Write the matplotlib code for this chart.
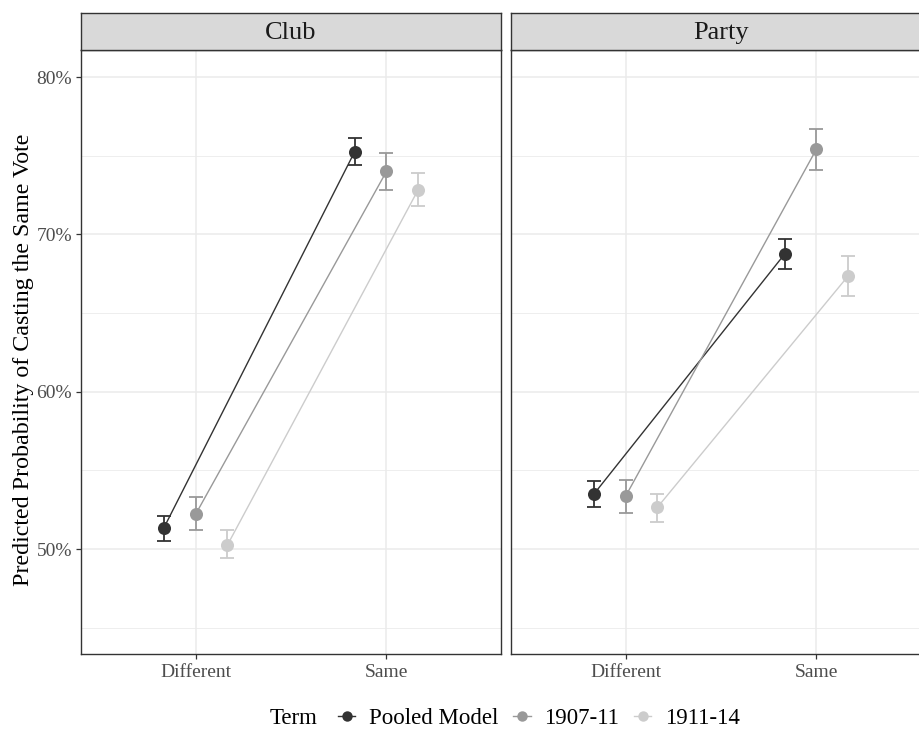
import matplotlib
matplotlib.use("Agg")
import matplotlib.pyplot as plt
from matplotlib.lines import Line2D
from matplotlib.ticker import FuncFormatter, MultipleLocator

plt.rcParams['font.family'] = ['Liberation Serif', 'DejaVu Serif']

panels = ["Club", "Party"]
categories = ["Different", "Same"]
terms = ["Pooled Model", "1907-11", "1911-14"]
colors = ["#333333", "#999999", "#cccccc"]

# estimates (%) per panel -> per term -> [Different, Same]
club_est = [[51.33, 75.25], [52.2, 74.0], [50.25, 72.85]]
club_lo = [[50.5, 74.4], [51.2, 72.8], [49.4, 71.8]]
club_hi = [[52.1, 76.1], [53.3, 75.2], [51.2, 73.9]]

party_est = [[53.48, 68.75], [53.35, 75.42], [52.65, 67.37]]
party_lo = [[52.7, 67.8], [52.3, 74.1], [51.7, 66.1]]
party_hi = [[54.3, 69.7], [54.4, 76.7], [53.5, 68.6]]

data = {"Club": (club_est, club_lo, club_hi), "Party": (party_est, party_lo, party_hi)}

W, H = 919, 753
fig = plt.figure(figsize=(W / 100, H / 100), dpi=100)

def fx(px):
    return px / W

def fy(py):
    return 1 - py / H

panel_top, panel_bot = 50, 654
strip_top = 13
panel_w = 420
lefts = [81, 511]

dodge = 0.5
n = len(terms)
offsets = [(-dodge / 2 + dodge / (2 * n) + i * dodge / n) for i in range(n)]

ylim = (43.33, 81.72)
xlim = (0.4, 2.6)

for pi, panel in enumerate(panels):
    left = lefts[pi]
    ax = fig.add_axes([fx(left), fy(panel_bot), panel_w / W, (panel_bot - panel_top) / H])
    est, lo, hi = data[panel]
    xs_base = [i + 1 for i in range(len(categories))]
    for ti in range(n):
        xs = [x + offsets[ti] for x in xs_base]
        ax.plot(xs, est[ti], color=colors[ti], lw=1.0, zorder=3, solid_capstyle='butt')
        yerr = [[e - l for e, l in zip(est[ti], lo[ti])], [h - e for e, h in zip(est[ti], hi[ti])]]
        ax.errorbar(xs, est[ti], yerr=yerr, fmt='none', ecolor=colors[ti],
                    elinewidth=1.3, capsize=4.8, capthick=1.3, zorder=4)
        ax.plot(xs, est[ti], 'o', color=colors[ti], ms=9.4, mew=0, zorder=5)
    ax.set_xlim(*xlim)
    ax.set_ylim(*ylim)
    ax.set_xticks(xs_base)
    ax.set_xticklabels(categories)
    ax.yaxis.set_major_locator(MultipleLocator(10))
    ax.yaxis.set_minor_locator(MultipleLocator(5))
    ax.yaxis.set_major_formatter(FuncFormatter(lambda v, p: f"{v:.0f}%"))
    ax.grid(True, which='major', color='#ebebeb', lw=1.1, zorder=0)
    ax.grid(True, which='minor', axis='y', color='#ebebeb', lw=0.6, zorder=0)
    ax.set_axisbelow(True)
    ax.tick_params(axis='both', which='major', length=3.5, width=0.9, color='#333333',
                   labelcolor='#4d4d4d', labelsize=14, pad=3)
    ax.tick_params(axis='y', which='minor', length=0)
    ax.tick_params(axis='x', pad=4)
    for s in ax.spines.values():
        s.set_color('#333333')
        s.set_linewidth(1.0)
    if pi == 0:
        ax.set_ylabel("Predicted Probability of Casting the Same Vote", fontsize=17.3,
                      color='black')
        ax.yaxis.set_label_coords(-0.113, 0.487)
    else:
        ax.set_yticklabels([])
        ax.tick_params(axis='y', which='major', length=0)
    # strip
    sax = fig.add_axes([fx(left), fy(panel_top), panel_w / W, (panel_top - strip_top) / H])
    sax.set_facecolor('#d9d9d9')
    sax.set_xticks([])
    sax.set_yticks([])
    for s in sax.spines.values():
        s.set_color('#333333')
        s.set_linewidth(1.0)
    sax.text(0.5, 0.47, panel, ha='center', va='center', fontsize=19, color='#1a1a1a',
             transform=sax.transAxes)

# legend
handles = [Line2D([0], [0], color=c, lw=1.0, marker='o', ms=7.5, mew=0) for c in colors]
leg = fig.legend(handles, terms, loc='center', bbox_to_anchor=(fx(539), fy(718)), ncol=3,
                 frameon=False, fontsize=16.5, handlelength=0.75, handletextpad=0.6,
                 columnspacing=0.65, borderpad=0, borderaxespad=0)
fig.text(fx(270), fy(718), "Term", fontsize=16.5, ha='left', va='center')

fig.savefig("out.png", dpi=100)
